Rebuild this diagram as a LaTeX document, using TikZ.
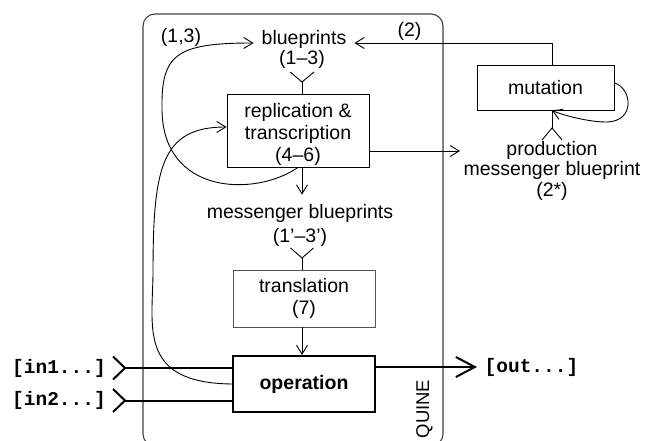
\documentclass[tikz,border=0pt]{standalone}
\usepackage{fontspec}
\setmainfont{Liberation Sans}
\setmonofont{Liberation Mono}
\usetikzlibrary{arrows.meta,calc}

\definecolor{framegray}{gray}{0.25}
\definecolor{softgray}{gray}{0.32}

\tikzset{
  lbl/.style={font=\fontsize{19.5}{22}\selectfont, inner sep=0pt},
  mono/.style={font=\fontsize{19.5}{22}\selectfont\ttfamily\bfseries, inner sep=0pt},
  procbox/.style={draw, line width=0.9pt, inner sep=0pt, align=center,
    font=\fontsize{19.5}{22}\selectfont},
  ln/.style={line width=0.9pt},
  arr/.style={line width=0.9pt, -{Straight Barb[length=9pt,width=11pt]}},
  heavy/.style={line width=2pt},
}

\begin{document}
\begin{tikzpicture}[x=1pt,y=-1pt]
\useasboundingbox (0,0) rectangle (648,441);

% enclosing frame of the quine
\node[draw=framegray, line width=1.1pt, rounded corners=12pt,
      minimum width=300pt, minimum height=432pt, inner sep=0pt] (quine) at (293,230) {};
\node[lbl, font=\fontsize{18.5}{20}\selectfont, rotate=90] (qlabel) at (424.5,409) {QUINE};

% labels
\node[lbl, anchor=base, inner xsep=8pt] (bp) at (304,44.5) {blueprints};
\node[lbl, anchor=base] (bpn) at (302,65) {(1–3)};
\node[lbl, anchor=base] (l13) at (181,43) {(1,3)};
\node[lbl, anchor=base] (l2) at (409.5,37) {(2)};
\node[lbl, anchor=base] (mb) at (300,218) {messenger blueprints};
\node[lbl, anchor=base] (mbn) at (300,242) {(1’–3’)};
\node[lbl, anchor=north, align=center, font=\fontsize{19.5}{20.5}\selectfont]
  (prod) at (552,141) {production\\messenger blueprint\\(2*)};

% process boxes
\node[procbox, minimum width=142pt, minimum height=73pt] (rep) at (298,130.5)
  {\rule{0pt}{22pt}replication \&\\transcription\\(4–6)};
\node[procbox, draw=softgray, minimum width=142pt, minimum height=57pt] (trans) at (304,298.5)
  {translation\\(7)};
\node[procbox, line width=2pt, minimum width=142pt, minimum height=56pt,
      font=\fontsize{19.5}{22}\selectfont\bfseries] (op) at (304,384) {operation};
\node[procbox, minimum width=137pt, minimum height=45pt] (mut) at (545.5,87.5) {mutation};

% inputs and output
\node[mono] (in1) at (59,368) {[in1...]};
\node[mono] (in2) at (59,400.5) {[in2...]};
\node[mono] (out) at (531.5,367) {[out...]};

% forks joining a blueprint to the process that reads it
\coordinate (f1) at (302,82);
\draw[ln] ($(f1)+(-12,-10)$) -- (f1) -- ($(f1)+(12,-10)$);
\draw[ln] (f1) -- (rep.north -| f1);
\coordinate (f2) at (302,258);
\draw[ln] ($(f2)+(-11.5,-10)$) -- (f2) -- ($(f2)+(11.5,-10)$);
\draw[ln] (f2) -- (trans.north -| f2);
\coordinate (f3) at (552,128);
\draw[ln] ($(f3)+(-10,12)$) -- (f3) -- ($(f3)+(10,12)$);
\draw[ln] (f3) -- (mut.south -| f3);

% main flow
\draw[arr] (rep.south -| f1) -- ([yshift=9pt]mb.north -| f1);
\draw[arr] (trans.south -| f2) -- (op.north -| f2);
\coordinate (pe) at (460,151);
\draw[arr] (rep.east |- pe) -- (pe);
\draw[arr] (mut.north -| f3) |- ([yshift=1.5pt]bp.base east);

% feedback curves
\draw[arr] (op.west) .. controls (140,383) and (152,330) .. (153,275)
  .. controls (153,170) and (160,127) .. ([yshift=3.5pt]rep.west);
\draw[arr] (rep.south) .. controls (255,197) and (163,195) .. (162,110)
  .. controls (161,55) and (175,43) .. ([yshift=1.5pt]bp.base west);

% mutation feeds back on itself
\draw[arr] ([yshift=4.5pt]mut.east) .. controls (632,88) and (636,122) .. (606,122)
  .. controls (590,122) and (565,116) .. (mut.south -| f3);

% input channels
\coordinate (a1) at (125,368);
\coordinate (a2) at (125,400.5);
\draw[heavy] ($(a1)+(-12,-11.5)$) -- (a1) -- ($(a1)+(-12,11.5)$);
\draw[heavy] ($(a2)+(-12,-11.5)$) -- (a2) -- ($(a2)+(-12,11.5)$);
\draw[heavy] (a1) -- (op.west |- a1);
\draw[heavy] (a2) -- (op.west |- a2);

% output channel
\coordinate (o1) at (477,367);
\draw[heavy, -{Straight Barb[length=19pt,width=20pt]}] (op.east |- o1) -- (o1);
\end{tikzpicture}
\end{document}
